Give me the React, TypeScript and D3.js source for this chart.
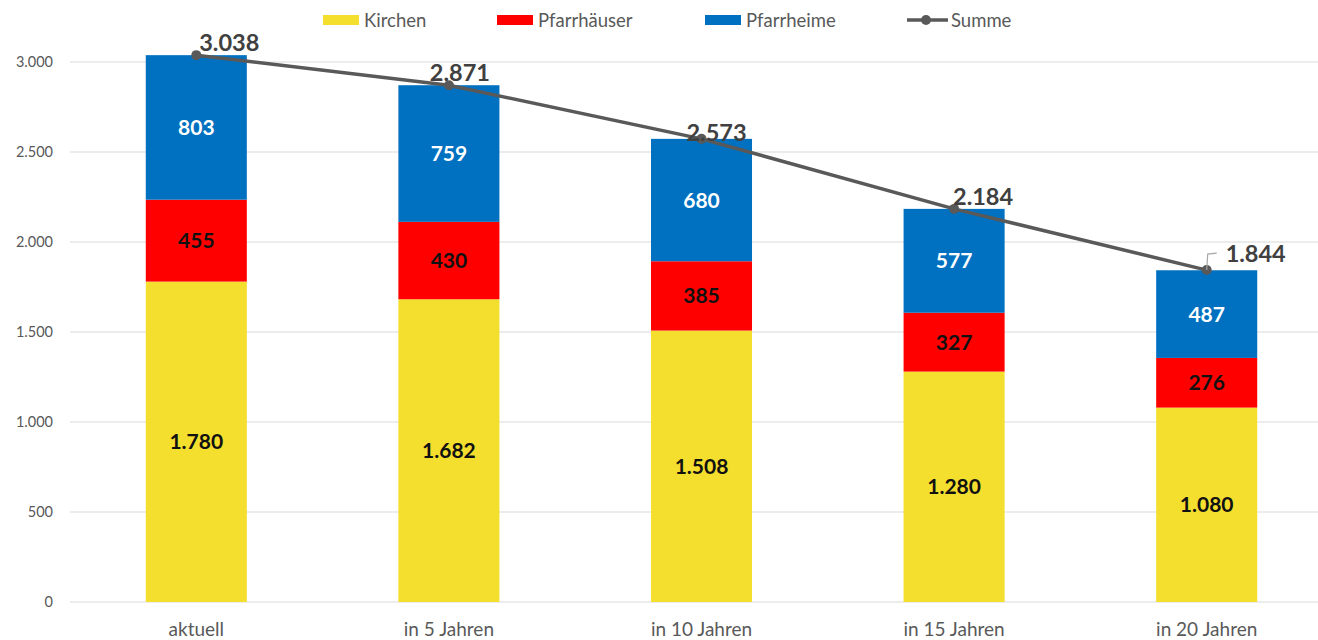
import React from "react";
import * as d3 from "d3";

const categories = ["aktuell", "in 5 Jahren", "in 10 Jahren", "in 15 Jahren", "in 20 Jahren"];
const kirchen = [1780, 1682, 1508, 1280, 1080];
const pfarrhaeuser = [455, 430, 385, 327, 276];
const pfarrheime = [803, 759, 680, 577, 487];
const summe = [3038, 2871, 2573, 2184, 1844];
const yTicks = [0, 500, 1000, 1500, 2000, 2500, 3000];
const seriesNames = ["Kirchen", "Pfarrhäuser", "Pfarrheime", "Summe"];

// label placement offsets for sum labels (dx from point to label centre, dy to baseline)
const sumLabelOffsets = [
  [33, -4],
  [11, -4],
  [15, 2],
  [29, -4],
  [49, -8],
];

const W = 1318;
const H = 640;
const colors = ["#F4DE2E", "#FF0000", "#0070C0"];
const lineColor = "#595959";
const font = "Lato, 'Open Sans', sans-serif";

const fmt = (v: number) => d3.format(",")(v).replace(/,/g, ".");

export default function App() {
  const x = d3.scaleBand<string>().domain(categories).range([70, 1333]).paddingInner(0.6).paddingOuter(0.3);
  const y = d3.scaleLinear().domain([0, 3000]).range([602, 62]);
  const bw = x.bandwidth();
  const series = [kirchen, pfarrhaeuser, pfarrheime];
  const cx = (c: string) => (x(c) as number) + bw / 2;

  const line = d3
    .line<number>()
    .x((_, i) => cx(categories[i]))
    .y((d) => y(d));

  const legendX = [323, 497, 705];

  return (
    <svg width={W} height={H} style={{ position: "absolute", left: 0, top: 0, background: "#fff" }} fontFamily={font}>
      <rect x={0} y={0} width={W} height={H} fill="#fff" />
      {/* grid */}
      {yTicks.map((t) => (
        <g key={t}>
          <line x1={70} x2={W} y1={y(t)} y2={y(t)} stroke="#D9D9D9" strokeWidth={1} />
          <text x={53} y={y(t) + 5} textAnchor="end" fontSize={14.5} fill={lineColor}>
            {fmt(t)}
          </text>
        </g>
      ))}
      {/* bars */}
      {categories.map((c, i) => {
        let base = 0;
        return (
          <g key={c}>
            {series.map((s, k) => {
              const y0 = base;
              const y1 = base + s[i];
              base = y1;
              const mid = (y(y0) + y(y1)) / 2;
              return (
                <g key={k}>
                  <rect x={x(c)} y={y(y1)} width={bw} height={y(y0) - y(y1)} fill={colors[k]} />
                  <text
                    x={cx(c)}
                    y={mid + 7.5}
                    textAnchor="middle"
                    fontSize={21}
                    fontWeight="bold"
                    fill={k === 2 ? "#FFFFFF" : "#111111"}
                  >
                    {fmt(s[i])}
                  </text>
                </g>
              );
            })}
          </g>
        );
      })}
      {/* category labels */}
      {categories.map((c) => (
        <text key={c} x={cx(c)} y={636} textAnchor="middle" fontSize={19} fill={lineColor}>
          {c}
        </text>
      ))}
      {/* sum line */}
      <path d={line(summe) || ""} fill="none" stroke={lineColor} strokeWidth={3.5} />
      {summe.map((v, i) => (
        <circle key={i} cx={cx(categories[i])} cy={y(v)} r={5} fill={lineColor} />
      ))}
      {/* leader line for last label */}
      <path
        d={`M${cx(categories[4])},${y(summe[4])} L${cx(categories[4]) + 1},${y(summe[4]) - 16} L${cx(categories[4]) + 10},${y(summe[4]) - 17}`}
        fill="none"
        stroke="#A6A6A6"
        strokeWidth={1.2}
      />
      {summe.map((v, i) => (
        <text
          key={i}
          x={cx(categories[i]) + sumLabelOffsets[i][0]}
          y={y(v) + sumLabelOffsets[i][1]}
          textAnchor="middle"
          fontSize={23.5}
          fontWeight="bold"
          fill="#404040"
        >
          {fmt(v)}
        </text>
      ))}
      {/* legend */}
      <g fontSize={18.5} fill={lineColor}>
        {legendX.map((lx, k) => (
          <g key={k}>
            <rect x={lx} y={15} width={36} height={10} fill={colors[k]} />
            <text x={lx + 41} y={26.5} fill={lineColor}>
              {seriesNames[k]}
            </text>
          </g>
        ))}
        <line x1={907} x2={948} y1={20} y2={20} stroke={lineColor} strokeWidth={3.5} />
        <circle cx={926} cy={20} r={5} fill={lineColor} />
        <text x={951} y={26.5} fill={lineColor}>
          {seriesNames[3]}
        </text>
      </g>
    </svg>
  );
}
